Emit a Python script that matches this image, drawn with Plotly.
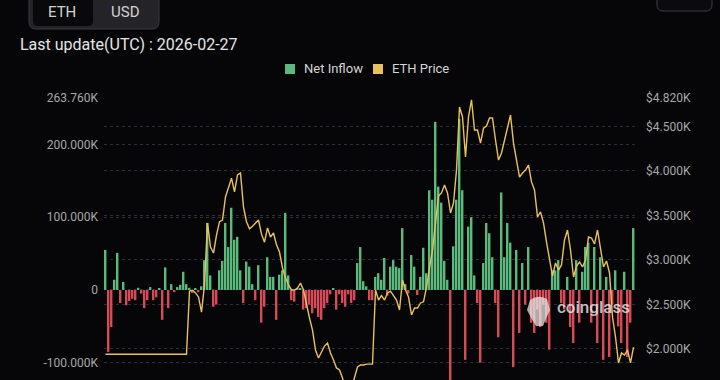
import plotly.graph_objects as go

# ---------------- data ----------------
idx = list(range(177))

net_inflow_k = [
    55, -85, -51, 14, 51, -18, 11, -21, -15, -12, -14, 3, -5, -25, -14, 4, -14, -10, 2, -41, 31, -25, 8, -3, 4, 7, 25, 8,
    3, -4, 2, -3, 5, 41, 92, 20, -23, -20, 27, 40, 92, 59, 113, 69, 73, 27, -18, 39, 32, 8, -14, 34, -45, -23, 45, 18,
    18, -41, 21, 27, 106, 20, -14, -16, 3, 2, -27, -25, -20, -32, -25, -37, -41, -25, -18, -6, 2, -27, -6, -18, -23, -6, -18, -14,
    37, 59, 12, 5, -14, -14, 18, 23, 14, 44, -8, 32, 41, 32, 30, 85, 8, -5, 48, 32, -7, 18, 58, 23, 137, 124, 231, 142,
    120, 40, 14, -130, 60, 124, 235, 137, -96, 87, 100, 20, -18, -100, 37, 92, 78, 45, -18, -65, 134, 45, 92, 65, -106, 55, -59, 37,
    -20, 59, -45, -59, -27, -51, -20, -45, -82, 27, 27, 41, -18, -27, 18, -51, -73, 41, -45, 25, 59, 65, -45, 59, -73, 45, -96, 18,
    -92, -20, 27, -50, -73, 25, -92, -45, 85,
]

eth_price = [
    1940, 1940, 1940, 1940, 1940, 1940, 1940, 1940, 1940, 1940, 1940, 1940, 1940, 1940,
    1940, 1940, 1940, 1940, 1940, 1940, 1940, 1940, 1940, 1940, 1940, 1940, 1940, 1940,
    2650, 2660, 2630, 2585, 2415, 2720, 3416, 3146, 3078, 3280, 3430, 3449, 3708, 3810, 3920, 3765,
    3955, 3977, 3595, 3430, 3350, 3380, 3416, 3449, 3290, 3200, 3360, 3258,
    3303, 3170, 3090, 2910, 2800, 2720, 2663, 2663, 2685, 2740, 2663, 2483, 2348, 2213, 1989, 1899,
    1966, 2033, 2067, 1955, 1876, 1787, 1764, 1675, 1540, 1500, 1560, 1690,
    1798, 1820, 1820, 1830, 1830, 1830, 2663, 2550, 2600, 2550, 2629, 2650, 2600, 2550, 2438, 2775,
    2663, 2584, 2382, 2460, 2460, 2517, 2530, 2696, 2910, 3112, 3416, 3720,
    3753, 3843, 3753, 3528, 3640, 4011, 4719, 4607, 4157, 4607, 4800, 4460, 4460, 4314, 4480, 4505,
    4595, 4595, 4348, 4123, 4202, 4348, 4517, 4629, 4314, 4123, 3932, 3977,
    4011, 4067, 3877, 3786, 3483, 3540, 3416, 3200, 3022, 2820, 2966, 2887, 2944, 3225, 3337, 3112,
    2809, 2932, 2977, 2921, 3000, 3258, 3247, 3180, 3337, 3112, 2921, 2989, 2854, 2359, 2135, 1843,
    1955, 1932, 1989, 1843, 2022,
]

left_ticks = [-100, 0, 100, 200, 263.76]
left_labels = ["-100.000K", "0", "100.000K", "200.000K", "263.760K"]
right_ticks = [2000, 2500, 3000, 3500, 4000, 4500, 4820]
right_labels = ["$2.000K", "$2.500K", "$3.000K", "$3.500K", "$4.000K", "$4.500K", "$4.820K"]

# ---------------- styling ----------------
W, H = 720, 380
L, R, T, B = 104, 84, 98, 0
PW, PH = W - L - R, H - T - B
BG = "#060609"
GREEN = "#5bb97b"
RED = "#d64b55"
YELLOW = "#e8c15c"
GRID = "#2d2d33"
FONT = "Roboto"


def px(x):
    return (x - L) / PW


def py(y):
    return (H - B - y) / PH


def rrect(x0, y0, x1, y1, r):
    a, b, c, d = px(x0), px(x1), py(y0), py(y1)
    rx, ry = r / PW, r / PH
    return (f"M {a+rx},{c} L {b-rx},{c} Q {b},{c} {b},{c-ry} L {b},{d+ry} "
            f"Q {b},{d} {b-rx},{d} L {a+rx},{d} Q {a},{d} {a},{d+ry} "
            f"L {a},{c-ry} Q {a},{c} {a+rx},{c} Z")


bar_colors = [GREEN if v >= 0 else RED for v in net_inflow_k]

fig = go.Figure()
fig.add_trace(go.Bar(x=idx, y=net_inflow_k, marker=dict(color=bar_colors, line=dict(width=0)),
                     width=0.6, name="Net Inflow", showlegend=False))
fig.add_trace(go.Scatter(x=idx, y=eth_price, yaxis="y2", mode="lines",
                         line=dict(color=YELLOW, width=1.4), name="ETH Price", showlegend=False))

shapes = []
annotations = []

# buttons top-left
shapes.append(dict(type="path", xref="paper", yref="paper", path=rrect(29, -14, 159, 29, 7),
                   fillcolor="#242428", line=dict(color="#3a3a3f", width=1), layer="above"))
shapes.append(dict(type="path", xref="paper", yref="paper", path=rrect(33, -12, 93, 26, 5),
                   fillcolor="#09090c", line=dict(width=0), layer="above"))
annotations.append(dict(x=px(62), y=py(12), xref="paper", yref="paper", text="ETH", showarrow=False,
                        font=dict(family=FONT, size=15, color="#d2d2d2"), xanchor="center", yanchor="middle"))
annotations.append(dict(x=px(125), y=py(12), xref="paper", yref="paper", text="USD", showarrow=False,
                        font=dict(family=FONT, size=15, color="#d2d2d2"), xanchor="center", yanchor="middle"))
# top-right button
shapes.append(dict(type="path", xref="paper", yref="paper", path=rrect(657, -14, 712, 11, 6),
                   fillcolor="#0b0b0e", line=dict(color="#3e3e43", width=1), layer="above"))

# title
annotations.append(dict(x=px(18), y=py(44), xref="paper", yref="paper", text="Last update(UTC) : 2026-02-27",
                        showarrow=False, font=dict(family=FONT, size=16, color="#e4e4e4"),
                        xanchor="left", yanchor="middle"))

# legend
shapes.append(dict(type="rect", xref="paper", yref="paper", x0=px(285), x1=px(295), y0=py(74), y1=py(64),
                   fillcolor=GREEN, line=dict(width=0)))
annotations.append(dict(x=px(302), y=py(69), xref="paper", yref="paper", text="Net Inflow", showarrow=False,
                        font=dict(family=FONT, size=13, color="#d4d4d4"), xanchor="left", yanchor="middle"))
shapes.append(dict(type="rect", xref="paper", yref="paper", x0=px(373), x1=px(383), y0=py(74), y1=py(64),
                   fillcolor=YELLOW, line=dict(width=0)))
annotations.append(dict(x=px(390), y=py(69), xref="paper", yref="paper", text="ETH Price", showarrow=False,
                        font=dict(family=FONT, size=13, color="#d4d4d4"), xanchor="left", yanchor="middle"))

# watermark
logo = (f"M {px(530)},{py(300)} Q {px(538)},{py(294)} {px(547)},{py(299)} "
        f"L {px(550)},{py(310)} Q {px(546)},{py(318)} {px(543)},{py(326)} "
        f"L {px(536)},{py(326)} Q {px(531)},{py(318)} {px(527)},{py(310)} Z")
shapes.append(dict(type="path", xref="paper", yref="paper", path=logo,
                   fillcolor="rgba(235,235,235,0.72)", line=dict(width=0), layer="above"))
annotations.append(dict(x=px(555), y=py(307), xref="paper", yref="paper", text="coinglass",
                        showarrow=False, font=dict(family=FONT, size=17, weight=500,
                                                   color="rgba(240,240,240,0.78)"),
                        xanchor="left", yanchor="middle"))

fig.update_layout(
    width=W, height=H,
    margin=dict(l=L, r=R, t=T, b=B, pad=0),
    paper_bgcolor=BG, plot_bgcolor=BG,
    bargap=0.4,
    showlegend=False,
    font=dict(family=FONT),
    xaxis=dict(range=[-0.5, 176.83], showgrid=False, showticklabels=False, zeroline=False,
               showline=False, ticks=""),
    yaxis=dict(range=[-123.7, 263.7601], tickvals=left_ticks, ticktext=left_labels,
               showgrid=True, gridcolor=GRID, griddash="3px,3px", gridwidth=1, zeroline=False,
               showline=False, ticks="", ticklabelstandoff=5,
               tickfont=dict(family=FONT, size=12, color="#a8a8a8")),
    yaxis2=dict(range=[1651.5, 4820.01], tickvals=right_ticks, ticktext=right_labels,
                overlaying="y", side="right",
                showgrid=True, gridcolor=GRID, griddash="3px,3px", gridwidth=1, zeroline=False,
                showline=False, ticks="", ticklabelstandoff=9,
                tickfont=dict(family=FONT, size=12, color="#a8a8a8")),
    shapes=shapes,
    annotations=annotations,
)

fig.write_html("out.html")
